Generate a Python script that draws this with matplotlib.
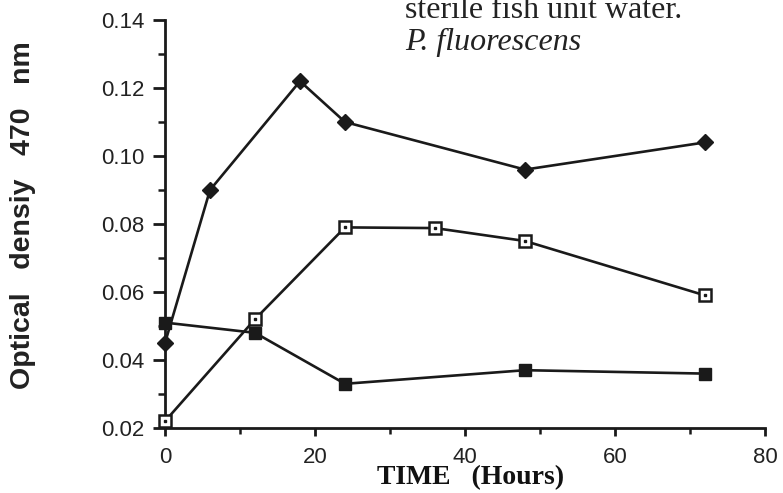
import matplotlib
matplotlib.use("Agg")
import matplotlib.pyplot as plt
from matplotlib.ticker import MultipleLocator

# Data
time_diamond = [0, 6, 18, 24, 48, 72]
od_diamond = [0.045, 0.090, 0.122, 0.110, 0.096, 0.104]

time_open = [0, 12, 24, 36, 48, 72]
od_open = [0.022, 0.052, 0.079, 0.0788, 0.075, 0.059]

time_filled = [0, 12, 24, 48, 72]
od_filled = [0.051, 0.048, 0.033, 0.037, 0.036]

x_ticks = [0, 20, 40, 60, 80]
x_tick_labels = ["0", "20", "40", "60", "80"]
y_ticks = [0.02, 0.04, 0.06, 0.08, 0.10, 0.12, 0.14]
y_tick_labels = ["0.02", "0.04", "0.06", "0.08", "0.10", "0.12", "0.14"]

W, H = 783, 493
fig = plt.figure(figsize=(W / 100, H / 100), dpi=100)
ax = fig.add_axes([165 / W, (H - 428) / H, 600 / W, (428 - 20) / H])

lw = 1.9
ax.plot(time_diamond, od_diamond, color="#1a1a1a", lw=lw, marker="D", ms=8,
        mfc="#1a1a1a", mec="#1a1a1a", clip_on=False, zorder=3)
ax.plot(time_open, od_open, color="#1a1a1a", lw=lw, marker="s", ms=8,
        mfc="white", mec="#1a1a1a", mew=1.8, clip_on=False, zorder=3)
ax.plot(time_open, od_open, ls="none", marker="s", ms=1.8, mfc="#1a1a1a",
        mec="#1a1a1a", clip_on=False, zorder=4)
ax.plot(time_filled, od_filled, color="#1a1a1a", lw=lw, marker="s", ms=9,
        mfc="#1a1a1a", mec="#1a1a1a", clip_on=False, zorder=3)

ax.set_xlim(0, 80)
ax.set_ylim(0.02, 0.14)
ax.set_xticks(x_ticks)
ax.set_xticklabels(x_tick_labels, fontsize=16, family="Liberation Sans")
ax.set_yticks(y_ticks)
ax.set_yticklabels(y_tick_labels, fontsize=16, family="Liberation Sans")
ax.xaxis.set_minor_locator(MultipleLocator(10))
ax.yaxis.set_minor_locator(MultipleLocator(0.01))

for s in ["top", "right"]:
    ax.spines[s].set_visible(False)
for s in ["left", "bottom"]:
    ax.spines[s].set_linewidth(2)
    ax.spines[s].set_color("#1a1a1a")

ax.tick_params(axis="y", which="major", direction="out", length=9, width=2, pad=6, colors="#1a1a1a")
ax.tick_params(axis="y", which="minor", direction="out", length=5, width=1.8, colors="#1a1a1a")
ax.tick_params(axis="x", which="major", direction="out", length=6, width=2, pad=8, colors="#1a1a1a")
ax.tick_params(axis="x", which="minor", direction="out", length=4, width=1.8, colors="#1a1a1a")
for lab in ax.get_xticklabels() + ax.get_yticklabels():
    lab.set_color("#222222")

fig.text(23 / W, 1 - 215 / H, "Optical   densiy   470   nm", rotation=90,
         ha="center", va="center", fontsize=20.5, fontweight="bold",
         family="Liberation Sans", color="#222222")

fig.text(471 / W, 1 - 478 / H, "TIME   (Hours)", ha="center", va="center",
         fontsize=20, fontweight="bold", family="Liberation Serif", color="#111111")

fig.text(405 / W, 1 - 18 / H, "sterile fish unit water.", ha="left", va="baseline",
         fontsize=23, family="Liberation Serif", color="#222222")
fig.text(405 / W, 1 - 50 / H, "P. fluorescens", ha="left", va="baseline",
         fontsize=23, style="italic", family="Liberation Serif", color="#222222")

fig.savefig("out.png", dpi=100)
